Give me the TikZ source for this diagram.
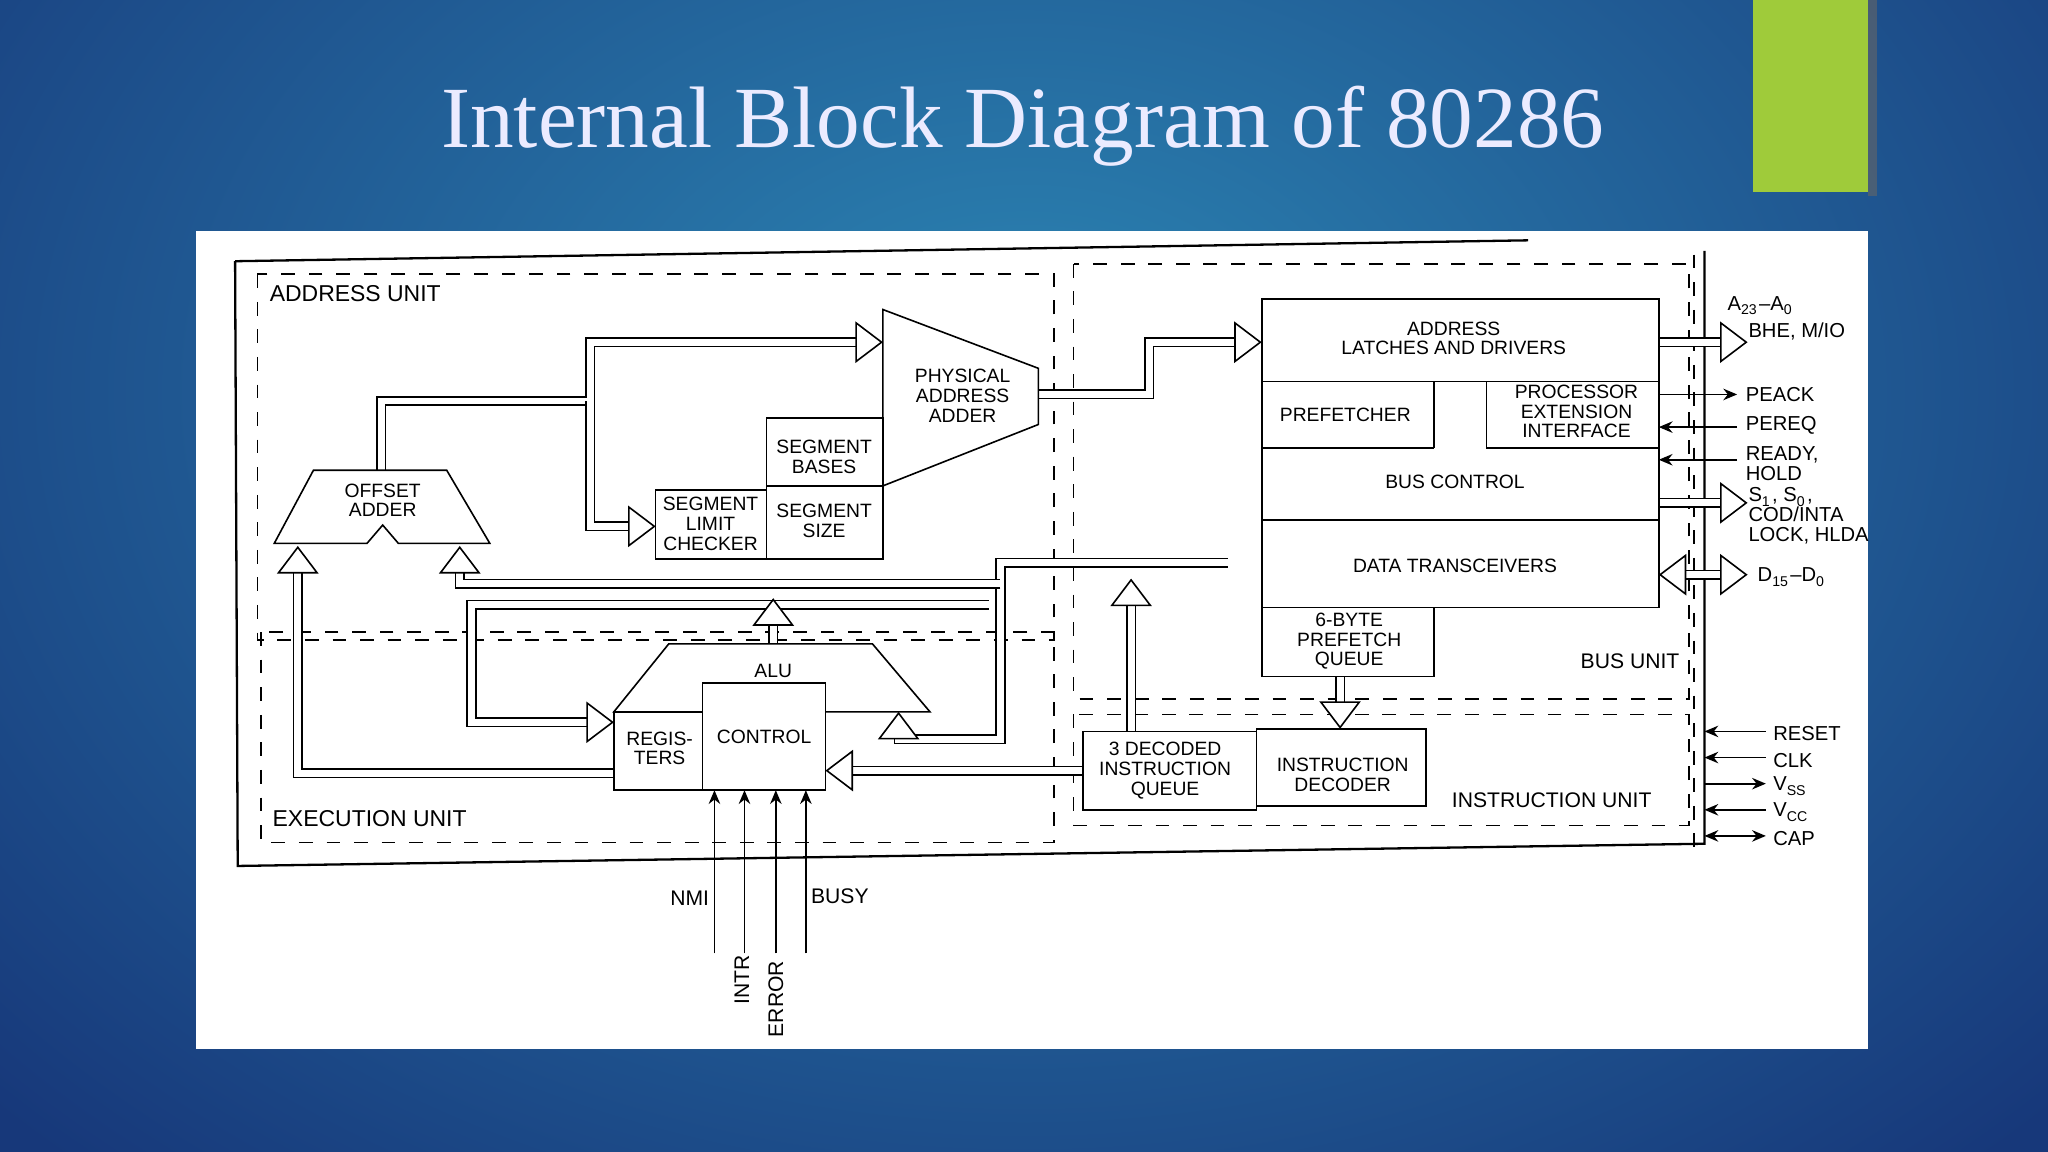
\documentclass[tikz,border=0pt]{standalone}
\usepackage{fontspec}
\setmainfont{Liberation Sans}
\newfontfamily\titlefont{Liberation Serif}
\usetikzlibrary{arrows.meta}
\definecolor{bgin}{HTML}{2C86B4}
\definecolor{bgout}{HTML}{17387A}
\definecolor{lime}{HTML}{9FCB3A}
\begin{document}
\begin{tikzpicture}[x=0.01cm,y=-0.01cm,
  lab/.style={font=\fontsize{4.2}{4.3}\selectfont,align=center,inner sep=0pt},
  sig/.style={lab,anchor=west,align=left,font=\fontsize{4.4}{4.3}\selectfont},
  blk/.style={draw,line width=0.35pt,fill=white},
  dbox/.style={draw,dashed,line width=0.35pt},
  fat/.style={draw=black,double=white,double distance=1.5pt,line width=0.35pt,
     -{Triangle[fill=white,length=6pt,width=9pt,line width=0.35pt]}},
  thin/.style={line width=0.4pt,-{Stealth[length=3pt,width=2.5pt]}}]
\useasboundingbox (0,0) rectangle (1568,882);
\shade[inner color=bgin,outer color=bgout] (-300,-500) rectangle (1868,1100);
\fill[black!60,opacity=0.6] (1430,0) rectangle (1437,150);
\fill[lime] (1342,0) rectangle (1430,147);
\node[font=\titlefont\fontsize{19}{22}\selectfont,text=white!92!blue] (title) at (783,97) {Internal Block Diagram of 80286};
\fill[white] (150,177) rectangle (1430,803);
% outer frame
\draw[line width=0.5pt] (180,200) -- (1170,184);
\draw[line width=0.5pt] (180,200) -- (182,663) -- (1305,646) -- (1305,192);
\draw[dbox] (1297,195) -- (1297,650);
% dashed units
\draw[dbox] (197,210) rectangle (807,490);
\draw[dbox] (200,484) rectangle (807,645);
\draw[dbox] (822,202) rectangle (1293,535);
\draw[dbox] (822,547) rectangle (1293,632);
\node[lab,font=\fontsize{5}{6}\selectfont] (au) at (272,225) {ADDRESS UNIT};
\node[lab,font=\fontsize{5}{6}\selectfont] (eu) at (283,627) {EXECUTION UNIT};
\node[lab,font=\fontsize{4.6}{6}\selectfont] (bu) at (1248,506) {BUS UNIT};
\node[lab,font=\fontsize{4.6}{6}\selectfont] (iu) at (1188,613) {INSTRUCTION UNIT};
% fat arrows (drawn first)
\draw[fat] (292,362) -- (292,307) -- (452,307) -- (452,262) -- (676,262);
\draw[fat] (452,307) -- (452,403) -- (502,403);
\draw[fat] (795,302) -- (880,302) -- (880,262) -- (966,262);
\draw[fat] (1270,262) -- (1338,262);
\draw[fat] (1270,385) -- (1338,385);
\draw[fat,{Triangle[fill=white,length=6pt,width=9pt,line width=0.35pt]}-{Triangle[fill=white,length=6pt,width=9pt,line width=0.35pt]}] (1270,440) -- (1338,440);
\draw[fat] (940,431) -- (766,431) -- (766,566) -- (688,566) -- (688,545);
\draw[fat] (766,447) -- (352,447) -- (352,418);
\draw[fat] (757,463) -- (361,463) -- (361,553) -- (470,553);
\draw[fat] (592,493) -- (592,458);
\draw[fat] (470,592) -- (228,592) -- (228,418);
\draw[fat] (829,590) -- (632,590);
\draw[fat] (866,560) -- (866,443);
\draw[fat] (1026,518) -- (1026,558);
% offset adder
\draw[blk] (240,360) -- (342,360) -- (375,416) -- (305,416) -- (293,402) -- (281,416) -- (210,416) -- cycle;
\node[lab] (oa) at (293,383) {OFFSET\\ADDER};
% physical address adder
\draw[blk] (676,237) -- (795,282) -- (795,325) -- (676,372) -- cycle;
\node[lab] (pa) at (737,303) {PHYSICAL\\ADDRESS\\ADDER};
\draw[blk] (587,320) rectangle (676,372);
\node[lab] (sb) at (631,350) {SEGMENT\\BASES};
\draw[blk] (587,372) rectangle (676,428);
\node[lab] (ss) at (631,399) {SEGMENT\\SIZE};
\draw[blk] (502,375) rectangle (587,428);
\node[lab] (sl) at (544,401) {SEGMENT\\LIMIT\\CHECKER};
% ALU
\draw[blk] (512,493) -- (668,493) -- (712,545) -- (470,545) -- cycle;
\node[lab] (alu) at (592,514) {ALU};
\draw[blk] (538,523) rectangle (632,605);
\node[lab] (ctl) at (585,564) {CONTROL};
\draw[blk] (470,545) rectangle (538,605);
\node[lab] (reg) at (505,573) {REGIS-\\TERS};
% bus unit
\draw[blk] (966,229) rectangle (1270,465);
\draw[line width=0.35pt] (966,292) -- (1270,292);
\draw[line width=0.35pt] (1098,292) -- (1098,343);
\draw[line width=0.35pt] (966,343) -- (1098,343);
\draw[line width=0.35pt] (1138,292) -- (1138,343) -- (1270,343);
\draw[line width=0.35pt] (966,398) -- (1270,398);
\node[lab] (alt) at (1113,259) {ADDRESS\\LATCHES AND DRIVERS};
\node[lab] (pf) at (1030,318) {PREFETCHER};
\node[lab] (pei) at (1207,315) {PROCESSOR\\EXTENSION\\INTERFACE};
\node[lab] (bc) at (1114,369) {BUS CONTROL};
\node[lab] (dt) at (1114,433) {DATA TRANSCEIVERS};
\draw[blk] (966,465) rectangle (1098,518);
\node[lab] (pq) at (1033,491) {6-BYTE\\PREFETCH\\QUEUE};
\draw[blk] (829,560) rectangle (962,620);
\node[lab] (dq) at (892,590) {3 DECODED\\INSTRUCTION\\QUEUE};
\draw[blk] (962,558) rectangle (1092,617);
\node[lab] (id) at (1028,593) {INSTRUCTION\\DECODER};
% right signals
\coordinate (r1) at (1270,302); \coordinate (r1e) at (1330,302);
\draw[thin] (r1) -- (r1e);
\coordinate (r2) at (1270,327); \coordinate (r2e) at (1330,327);
\draw[thin] (r2e) -- (r2);
\coordinate (r3) at (1270,352); \coordinate (r3e) at (1330,352);
\draw[thin] (r3e) -- (r3);
\node[sig] (a23) at (1322,234) {A\textsubscript{23}--A\textsubscript{0}};
\node[sig] (bhe) at (1338,254) {BHE, M/IO};
\node[sig] (peack) at (1336,302) {PEACK};
\node[sig] (pereq) at (1336,326) {PEREQ};
\node[sig] (rdy) at (1336,355) {READY,\\HOLD};
\node[sig] (s1) at (1338,395) {S\textsubscript{1}, S\textsubscript{0},\\COD/INTA\\LOCK, HLDA};
\node[sig] (d15) at (1345,442) {D\textsubscript{15}--D\textsubscript{0}};
% bottom right
\foreach \y/\n in {560/RESET,580/CLK,600/V\textsubscript{SS},620/V\textsubscript{CC},640/CAP}{
  \coordinate (p\y) at (1305,\y); \coordinate (q\y) at (1352,\y);
  \node[sig] (t\y) at (1357,\y+2) {\n};
}
\draw[thin] (q560) -- (p560);
\draw[thin] (q580) -- (p580);
\draw[thin] (p600) -- (q600);
\draw[thin] (q620) -- (p620);
\draw[thin,{Stealth[length=3pt,width=2.5pt]}-{Stealth[length=3pt,width=2.5pt]}] (p640) -- (q640);
% bottom inputs
\foreach \x in {547,570,594,617}{
  \coordinate (b\x) at (\x,730); \coordinate (c\x) at (\x,605);
  \draw[thin] (b\x) -- (c\x);
}
\node[lab,font=\fontsize{4.6}{5}\selectfont] (nmi) at (528,688) {NMI};
\node[lab,font=\fontsize{4.6}{5}\selectfont] (busy) at (643,686) {BUSY};
\node[lab,font=\fontsize{4.6}{5}\selectfont,rotate=90] (intr) at (568,750) {INTR};
\node[lab,font=\fontsize{4.6}{5}\selectfont,rotate=90] (err) at (594,765) {ERROR};
\end{tikzpicture}
\end{document}
